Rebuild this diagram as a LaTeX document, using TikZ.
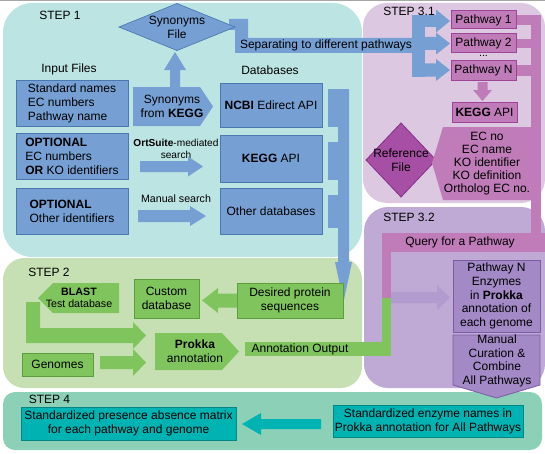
\documentclass[tikz,border=0pt]{standalone}
\usepackage{fontspec}
\setmainfont{Liberation Sans}
\definecolor{cyanbg}{HTML}{BCE4E2}
\definecolor{bluefill}{HTML}{76A0D4}
\definecolor{blueline}{HTML}{4A78B0}
\definecolor{pinkbg}{HTML}{DDC8E2}
\definecolor{pinkfill}{HTML}{C07CB9}
\definecolor{pinkline}{HTML}{9E4397}
\definecolor{refdia}{HTML}{A64FA4}
\definecolor{refline}{HTML}{86308A}
\definecolor{purplebg}{HTML}{BEAAD4}
\definecolor{purplefill}{HTML}{A389C6}
\definecolor{purpleline}{HTML}{7C5CA6}
\definecolor{greenbg}{HTML}{C6E0B4}
\definecolor{greenfill}{HTML}{80C45E}
\definecolor{greenline}{HTML}{5C9E3C}
\definecolor{tealbg}{HTML}{8CD1B7}
\definecolor{tealfill}{HTML}{00B3B3}
\definecolor{tealline}{HTML}{068585}
\newcommand{\fmain}{\fontsize{9}{10.5}\selectfont}
\newcommand{\fsmall}{\fontsize{8}{9}\selectfont}
\newcommand{\hblk}[7]{\fill[#1] (#2,{#4-#5}) -- (#7,{#4-#5}) -- (#7,{#4-#6}) -- (#3,#4) -- (#7,{#4+#6}) -- (#7,{#4+#5}) -- (#2,{#4+#5}) -- cycle;}
\newcommand{\vblk}[7]{\fill[#1] ({#4-#5},#2) -- ({#4-#5},#7) -- ({#4-#6},#7) -- (#4,#3) -- ({#4+#6},#7) -- ({#4+#5},#7) -- ({#4+#5},#2) -- cycle;}
\newcommand{\rnode}[7]{\node[#1, minimum width={(#5-#3)*0.75pt}, minimum height={(#6-#4)*0.75pt}] (#2) at ({(#3+#5)/2},{(#4+#6)/2}) {#7};}
\tikzset{
  base/.style={inner sep=0pt, outer sep=0pt, align=center, font=\fmain, text=black},
  lbl/.style={base},
  small/.style={base, font=\fsmall},
  bluebox/.style={base, draw=blueline, fill=bluefill, line width=0.75pt},
  greenbox/.style={base, draw=greenline, fill=greenfill, line width=0.6pt},
  pinkbox/.style={base, draw=pinkline, fill=pinkfill, line width=0.75pt},
  purplebox/.style={base, draw=purpleline, fill=purplefill, line width=0.6pt},
  tealbox/.style={base, draw=tealline, fill=tealfill, line width=0.6pt},
}
\begin{document}
\begin{tikzpicture}[x=0.75pt,y=-0.75pt]
\useasboundingbox (0,0) rectangle (545,453);
\fill[white] (0,0) rectangle (545,453);
\draw[black!35, line width=0.75pt] (0,0.5) -- (545,0.5);
% panels
\fill[cyanbg, rounded corners=22pt] (3,3) rectangle (362,257);
\fill[pinkbg, rounded corners=18pt] (363,3) rectangle (545,203);
\fill[purplebg, rounded corners=18pt] (364,207) rectangle (545,388);
\fill[greenbg, rounded corners=16pt] (3,258) rectangle (362,388);
\fill[tealbg, rounded corners=9pt] (3,392) rectangle (542,450);
% ---------- STEP 1 ----------
\node[lbl] (inf) at (69,69) {Input Files};
\node[lbl] (dbs) at (270,70) {Databases};
% separating band
\fill[bluefill] (229,19) -- (248,19) -- (248,38) -- (425,38) -- (425,53) -- (235,53) -- (235,30) -- (229,30) -- cycle;
\node[lbl] (sep) at (326,45.5) {Separating to different pathways};
% branch to pathways
\fill[bluefill] (412,15) rectangle (425,77);
\hblk{bluefill}{424}{450}{21}{6}{11.5}{436}
\hblk{bluefill}{424}{450}{43.5}{6.5}{11}{436}
\hblk{bluefill}{424}{450}{70}{6.5}{11}{436}
% synonyms file diamond
\filldraw[fill=bluefill, draw=blueline, line width=0.5pt] (119,27) -- (177,3.5) -- (235,27) -- (177,50.5) -- cycle;
\node[lbl] (syn) at (177,27) {Synonyms\\File};
% up arrow
\vblk{bluefill}{87}{52}{175}{5}{11}{70}
% input boxes
\rnode{bluebox, align=left}{in1}{16}{80}{128}{126}{Standard names\\EC numbers\\Pathway name}
\rnode{bluebox, align=left}{in2}{16}{133}{128}{179}{\textbf{OPTIONAL}\\EC numbers\\\textbf{OR} KO identifiers}
\rnode{bluebox, align=left}{in3}{16}{188}{128}{234}{\textbf{OPTIONAL}\\Other identifiers}
% synonyms from KEGG pentagon
\fill[bluefill] (133,87) -- (200,87) -- (213,106.5) -- (200,126) -- (133,126) -- cycle;
\node[lbl] (syk) at (172,106) {Synonyms\\from \textbf{KEGG}};
% database boxes
\rnode{bluebox}{ncbi}{220}{83}{322}{127}{\textbf{NCBI} Edirect API}
\rnode{bluebox}{kegg}{220}{135}{322}{182}{\textbf{KEGG} API}
\rnode{bluebox}{oth}{220}{188}{322}{234}{Other databases}
% search arrows
\node[small, font=\fontsize{7.6}{8.6}\selectfont] (ortl) at (176,149) {\textbf{OrtSuite}-mediated\\search};
\hblk{bluefill}{140}{203}{166.5}{5.5}{10}{188}
\node[small] (manl) at (176,199) {Manual search};
\hblk{bluefill}{138}{206}{216}{6}{10}{190}
% collector
\fill[bluefill] (328,89) rectangle (349,127);
\fill[bluefill] (328,142) rectangle (349,180);
\fill[bluefill] (328,195) rectangle (349,228);
\vblk{bluefill}{89}{302}{343.5}{5.5}{8.5}{262}
% ---------- STEP 3.1 ----------
\fill[pinkfill] (516,15.5) rectangle (541,25.5);
\fill[pinkfill] (516,39) rectangle (541,48);
\fill[pinkfill] (516,65.5) rectangle (541,75.5);
\fill[pinkfill] (531,15.5) rectangle (541,252);
\fill[pinkfill] (382,233) rectangle (545,252);
\fill[pinkfill] (382,233) rectangle (391,298);
\fill[greenfill] (382,298) rectangle (391,356);
\node[lbl] (qry) at (460,242.5) {Query for a Pathway};
\rnode{pinkbox}{p1}{451}{11}{516}{29}{Pathway 1}
\rnode{pinkbox}{p2}{451}{34}{516}{53}{Pathway 2}
\node[small] (dots) at (483.5,56) {...};
\rnode{pinkbox}{pn}{451}{61}{516}{80}{Pathway N}
\vblk{pinkfill}{82}{101}{482.5}{5}{9.5}{90}
\rnode{pinkbox}{kapi}{452}{102}{517}{122}{\textbf{KEGG} API}
\filldraw[fill=refdia, draw=refline, line width=0.6pt] (366,160) -- (401,123) -- (436,160) -- (401,197) -- cycle;
\node[lbl] (ref) at (401,160) {Reference\\File};
\fill[pinkfill] (432,163) -- (443,127) -- (533,127) -- (533,200) -- (443,200) -- cycle;
\node[lbl, font=\fontsize{9}{9.9}\selectfont] (ec) at (487,163.5) {EC no\\EC name\\KO identifier\\KO definition\\Ortholog EC no.};
% ---------- STEP 3.2 ----------
\hblk{purplefill!85!white}{391}{450}{297.5}{5.5}{12.5}{437}
\rnode{purplebox, font=\fontsize{9}{10.3}\selectfont}{pne}{453}{260}{540}{332}{Pathway N\\Enzymes\\in \textbf{Prokka}\\annotation of\\each genome}
\filldraw[fill=purplefill, draw=purpleline, line width=0.6pt] (453,335) -- (540,335) -- (540,385) -- (496.5,398) -- (453,385) -- cycle;
\node[lbl, font=\fontsize{9}{10.2}\selectfont] (man) at (497,361) {Manual\\Curation \&\\Combine\\All Pathways};
% ---------- STEP 2 ----------
\fill[greenfill] (38,298) -- (53,283) -- (119,283) -- (119,313) -- (53,313) -- cycle;
\node[small] (blast) at (79,298) {\textbf{BLAST}\\Test database};
\rnode{greenbox}{cdb}{134}{279}{199}{318}{Custom\\database}
\rnode{greenbox}{dps}{237}{283}{343}{318}{Desired protein\\sequences}
\hblk{greenfill}{237}{202}{300.5}{7}{12.5}{218}
\fill[greenfill] (26,302) -- (40,302) -- (40,328) -- (133,328) -- (133,322) -- (146,335.5) -- (133,349) -- (133,343) -- (26,343) -- cycle;
\rnode{greenbox}{gen}{22}{353}{93}{376}{Genomes}
\hblk{greenfill}{100}{146}{362.5}{6.5}{13.5}{133}
\fill[greenfill] (155,333) -- (222,333) -- (239,351.5) -- (222,370) -- (155,370) -- cycle;
\node[lbl] (prk) at (195,351) {\textbf{Prokka}\\annotation};
\fill[greenfill] (245,342) rectangle (391,356);
\node[lbl] (aout) at (300,349) {Annotation Output};
% ---------- STEP 4 ----------
\rnode{tealbox}{mat}{21}{407}{236}{440}{Standardized presence absence matrix\\for each pathway and genome}
\rnode{tealbox}{std}{333}{405}{523}{437}{Standardized enzyme names in\\Prokka annotation for All Pathways}
\hblk{tealfill}{321}{242}{424}{5}{11}{261}
% step labels (on top)
\node[lbl] (s1) at (60,15) {STEP 1};
\node[lbl] (s31) at (409,11) {STEP 3.1};
\node[lbl] (s32) at (409,217) {STEP 3.2};
\node[lbl] (s2) at (49,272) {STEP 2};
\node[lbl] (s4) at (49.5,399) {STEP 4};
\end{tikzpicture}
\end{document}
